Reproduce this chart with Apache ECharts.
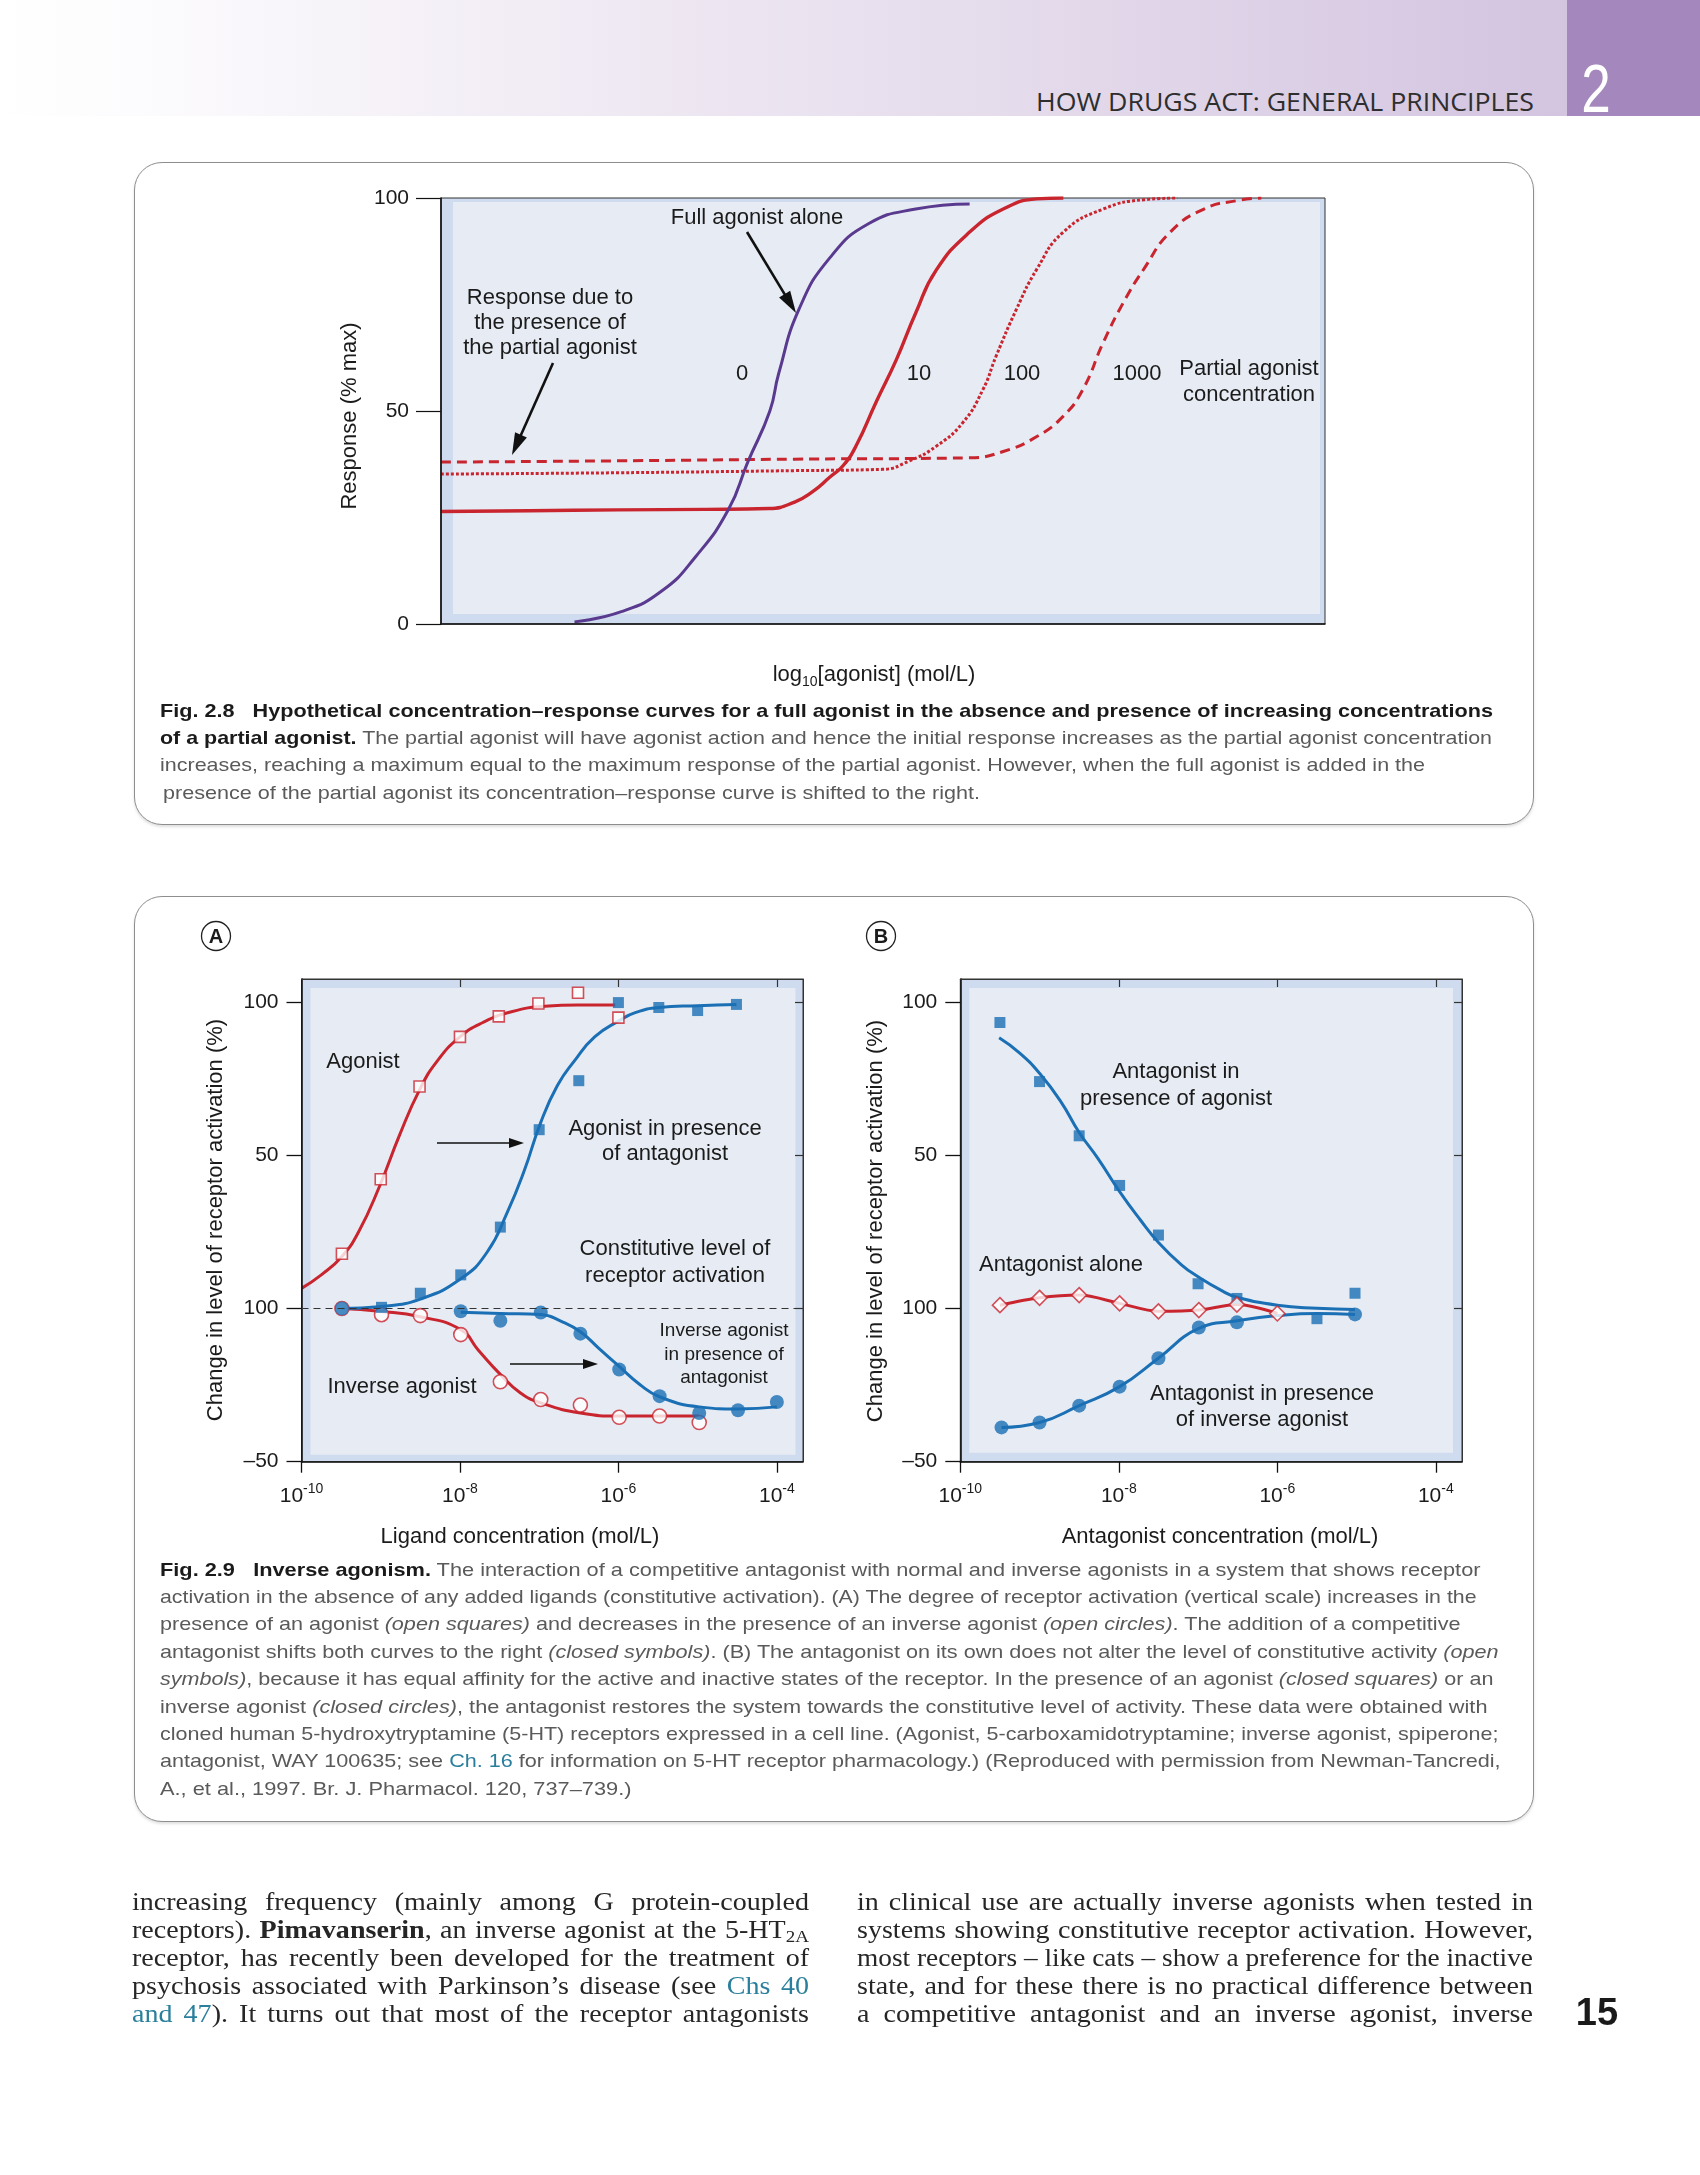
<!DOCTYPE html>
<html>
<head>
<meta charset="utf-8">
<script src="https://cdn.jsdelivr.net/npm/echarts@6.0.0/dist/echarts.min.js"></script>
<style>
html,body{margin:0;padding:0;background:#fff;}
#page{position:relative;width:1700px;height:2175px;overflow:hidden;background:#fff;}
.band{position:absolute;left:0;top:0;width:1567px;height:116px;
  background:linear-gradient(to right,#ffffff 0%,#fcfbfd 9%,#efe9f3 40%,#e2d8ea 70%,#d3c4e0 100%);}
.chap{position:absolute;left:1567px;top:0;width:133px;height:116px;background:#a487bc;}
.hdr{position:absolute;left:1036px;top:86px;line-height:30px;font-family:"Open Sans","DejaVu Sans",sans-serif;font-weight:400;font-size:25px;color:#2e2e2e;white-space:nowrap;transform-origin:left center;}
.chapnum{position:absolute;left:1596px;top:88px;transform:translate(-50%,-50%) scaleX(0.78);font-family:"Liberation Sans",Arial,sans-serif;font-weight:400;font-size:68px;line-height:68px;color:#fff;}
.box{position:absolute;box-sizing:border-box;border:1.5px solid #8e8e8e;border-radius:28px;background:#fff;box-shadow:0 2px 3px rgba(0,0,0,0.13);}
#chart{position:absolute;left:0;top:0;width:1700px;height:2175px;z-index:2;}
.cap{position:absolute;z-index:3;white-space:nowrap;font-family:"Liberation Sans",Arial,Helvetica,sans-serif;font-size:19px;line-height:27px;color:#5a5a5a;transform-origin:left center;}
.cap b{color:#1a1a1a;font-weight:bold;}
.cap a,.body a{color:#2a7f9c;text-decoration:none;}
.body{position:absolute;z-index:3;white-space:nowrap;font-family:"Liberation Serif","DejaVu Serif",serif;font-size:25.5px;line-height:28px;color:#262626;transform-origin:left center;}
.body b{font-weight:bold;}
.body sub{font-size:0.68em;vertical-align:-0.25em;line-height:0;}
.pnum{position:absolute;z-index:3;left:1597px;top:2012px;transform:translate(-50%,-50%);font-family:"Liberation Sans",Arial,sans-serif;font-weight:bold;font-size:38px;line-height:40px;color:#1a1a1a;}
</style>
</head>
<body>
<div id="page">
  <div class="band"></div>
  <div class="chap"></div>
  <div class="hdr" data-w="498">HOW DRUGS ACT: GENERAL PRINCIPLES</div>
  <div class="chapnum">2</div>

  <div class="box" style="left:134px;top:162px;width:1400px;height:663px;"></div>
  <div class="box" style="left:134px;top:896px;width:1400px;height:926px;"></div>

  <div id="chart"></div>

  <!-- Fig 2.8 caption -->
  <div class="cap" style="left:160px;top:696.5px" data-w="1333"><b>Fig. 2.8</b>&nbsp;&nbsp;&nbsp;<b>Hypothetical concentration–response curves for a full agonist in the absence and presence of increasing concentrations</b></div>
  <div class="cap" style="left:160px;top:723.5px" data-w="1332"><b>of a partial agonist.</b> The partial agonist will have agonist action and hence the initial response increases as the partial agonist concentration</div>
  <div class="cap" style="left:160px;top:751px" data-w="1265">increases, reaching a maximum equal to the maximum response of the partial agonist. However, when the full agonist is added in the</div>
  <div class="cap" style="left:163px;top:778.5px" data-w="817">presence of the partial agonist its concentration–response curve is shifted to the right.</div>

  <!-- Fig 2.9 caption -->
  <div class="cap" style="left:159.5px;top:1555.5px" data-w="1320.5"><b>Fig. 2.9</b>&nbsp;&nbsp;&nbsp;<b>Inverse agonism.</b> The interaction of a competitive antagonist with normal and inverse agonists in a system that shows receptor</div>
  <div class="cap" style="left:159.5px;top:1582.9px" data-w="1316.5">activation in the absence of any added ligands (constitutive activation). (A) The degree of receptor activation (vertical scale) increases in the</div>
  <div class="cap" style="left:159.5px;top:1610.3px" data-w="1300.5">presence of an agonist <i>(open squares)</i> and decreases in the presence of an inverse agonist <i>(open circles)</i>. The addition of a competitive</div>
  <div class="cap" style="left:159.5px;top:1637.7px" data-w="1338.5">antagonist shifts both curves to the right <i>(closed symbols)</i>. (B) The antagonist on its own does not alter the level of constitutive activity <i>(open</i></div>
  <div class="cap" style="left:159.5px;top:1665.1px" data-w="1333.5"><i>symbols)</i>, because it has equal affinity for the active and inactive states of the receptor. In the presence of an agonist <i>(closed squares)</i> or an</div>
  <div class="cap" style="left:159.5px;top:1692.5px" data-w="1327.5">inverse agonist <i>(closed circles)</i>, the antagonist restores the system towards the constitutive level of activity. These data were obtained with</div>
  <div class="cap" style="left:159.5px;top:1719.9px" data-w="1338.5">cloned human 5-hydroxytryptamine (5-HT) receptors expressed in a cell line. (Agonist, 5-carboxamidotryptamine; inverse agonist, spiperone;</div>
  <div class="cap" style="left:159.5px;top:1747.3px" data-w="1340.5">antagonist, WAY 100635; see <a>Ch. 16</a> for information on 5-HT receptor pharmacology.) (Reproduced with permission from Newman-Tancredi,</div>
  <div class="cap" style="left:159.5px;top:1774.7px" data-w="471.5">A., et al., 1997. Br. J. Pharmacol. 120, 737–739.)</div>

  <!-- Body text -->
  <div class="body" style="left:132px;top:1888px" data-w="677" data-mode="justify">increasing frequency (mainly among G protein-coupled</div>
  <div class="body" style="left:132px;top:1916px" data-w="677" data-mode="justify">receptors). <b>Pimavanserin</b>, an inverse agonist at the 5-HT<sub>2A</sub></div>
  <div class="body" style="left:132px;top:1944px" data-w="677" data-mode="justify">receptor, has recently been developed for the treatment of</div>
  <div class="body" style="left:132px;top:1972px" data-w="677" data-mode="justify">psychosis associated with Parkinson’s disease (see <a>Chs 40</a></div>
  <div class="body" style="left:132px;top:2000px" data-w="677" data-mode="justify"><a>and 47</a>). It turns out that most of the receptor antagonists</div>

  <div class="body" style="left:857px;top:1888px" data-w="676" data-mode="justify">in clinical use are actually inverse agonists when tested in</div>
  <div class="body" style="left:857px;top:1916px" data-w="676" data-mode="justify">systems showing constitutive receptor activation. However,</div>
  <div class="body" style="left:857px;top:1944px" data-w="676" data-mode="justify">most receptors – like cats – show a preference for the inactive</div>
  <div class="body" style="left:857px;top:1972px" data-w="676" data-mode="justify">state, and for these there is no practical difference between</div>
  <div class="body" style="left:857px;top:2000px" data-w="676" data-mode="justify">a competitive antagonist and an inverse agonist, inverse</div>

  <div class="pnum">15</div>
</div>

<script>
// ---------------- DATA ----------------
// Fig 2.8: x = position along log10[agonist] axis (arbitrary units, 0-10), y = response (% max)
const fullAgonistAlone = [[1.51,0.5],[2.04,2.9],[2.50,7.8],[2.88,15.8],[3.25,26.8],[3.47,38],[3.72,50],[3.82,58.8],[4.05,73.9],[4.40,86],[4.84,94],[5.37,97.4],[5.98,98.6]];
const partial10 = [[0,26.4],[1,26.6],[2,26.8],[3,26.9],[3.71,27.1],[4.0,28.6],[4.2,31],[4.4,34.5],[4.55,37.2],[4.7,42],[4.92,52],[5.15,62],[5.37,73],[5.6,83],[5.98,92],[6.36,97.4],[6.74,99.8],[7.04,100]];
const partial100 = [[0,35.2],[2,35.5],[4,36.0],[4.99,36.3],[5.29,38.2],[5.6,41.7],[5.9,47.2],[6.13,55],[6.28,62.9],[6.51,73.9],[6.74,83.3],[7.04,92],[7.49,97.4],[7.95,99.6],[8.33,100]];
const partial1000 = [[0,38],[2,38.3],[4,38.7],[5.98,39],[6.36,40.5],[6.74,44],[7.04,48.8],[7.26,55],[7.49,66],[7.72,75.5],[7.95,83.3],[8.25,92],[8.63,97.4],[9.01,99.4],[9.28,100]];
const fig28YTicks = [0, 50, 100];

// Fig 2.9A: x = log10 ligand concentration (mol/L), y = change in level of receptor activation
const agonistSquares = [[-9.49,17.9],[-9.0,42.2],[-8.51,72.5],[-8.0,88.7],[-7.51,95.4],[-7.01,99.6],[-6.51,103.1],[-6.0,95.0]];
const agonistCurve = [[-10,6.6],[-9.75,11],[-9.49,17],[-9.28,25],[-9.02,39.6],[-8.76,56.8],[-8.51,71.4],[-8.29,80.7],[-8.0,88.7],[-7.71,93.4],[-7.35,96.9],[-6.93,98.7],[-6.51,99.1],[-6.04,99.1]];
const agonistAntSquares = [[-8.99,0.4],[-8.50,5.0],[-7.99,11.0],[-7.49,26.6],[-7.0,58.4],[-6.5,74.4],[-6.0,99.9],[-5.49,98.3],[-5.0,97.3],[-4.51,99.3]];
const agonistAntCurve = [[-9.49,0],[-8.99,0.7],[-8.5,3.1],[-7.99,9.7],[-7.66,18.3],[-7.40,31.6],[-7.19,44.9],[-6.98,60.8],[-6.77,72.8],[-6.56,80.7],[-6.30,88.7],[-5.99,94],[-5.78,96.7],[-5.49,98.3],[-5.0,98.9],[-4.51,99.3]];
const inverseCircles = [[-9.49,0],[-8.99,-2.0],[-8.50,-2.3],[-7.99,-8.5],[-7.49,-23.9],[-6.98,-29.7],[-6.48,-31.5],[-5.99,-35.5],[-5.48,-35.1],[-4.98,-37.2]];
const inverseCurve = [[-9.49,0],[-9.02,-0.9],[-8.5,-2.7],[-7.99,-6.9],[-7.77,-13.5],[-7.49,-21.5],[-7.24,-27.5],[-6.98,-30.8],[-6.48,-34.1],[-5.99,-35.1],[-4.98,-35.1]];
const inverseAntCircles = [[-9.49,0],[-7.99,-0.9],[-7.49,-4.0],[-6.98,-1.3],[-6.48,-8.2],[-5.99,-19.9],[-5.48,-28.6],[-4.98,-34.1],[-4.49,-33.2],[-4.0,-30.5]];
const inverseAntCurve = [[-7.99,-1.2],[-7.49,-1.6],[-6.98,-1.9],[-6.72,-4.2],[-6.48,-7.6],[-6.25,-12.9],[-5.99,-18.9],[-5.73,-24.8],[-5.48,-28.8],[-4.98,-32.1],[-4.49,-32.8],[-4.0,-32.1]];

// Fig 2.9B: x = log10 antagonist concentration (mol/L)
const antAgonistSquares = [[-9.50,93.4],[-9.0,74.1],[-8.50,56.4],[-7.99,40.2],[-7.50,24.0],[-7.0,8.1],[-6.51,3.3],[-5.50,-3.3],[-5.02,5.0]];
const antAgonistCurve = [[-9.51,88.4],[-9.25,83.4],[-9.0,76.8],[-8.73,67.5],[-8.5,57.5],[-8.26,48.9],[-7.99,38.2],[-7.73,29.0],[-7.5,21.6],[-7.21,14.3],[-7.0,10.4],[-6.69,5.7],[-6.51,3.7],[-6.0,1.1],[-5.5,0.1],[-5.02,-0.3]];
const antAloneDiamonds = [[-9.5,1.1],[-9.0,3.5],[-8.5,4.4],[-7.99,1.7],[-7.5,-0.9],[-6.99,-0.5],[-6.51,1.3],[-6.0,-1.6]];
const antInverseCircles = [[-9.48,-38.8],[-9.0,-37.2],[-8.50,-31.7],[-7.99,-25.5],[-7.5,-16.2],[-6.99,-6.2],[-6.51,-4.5],[-5.02,-1.9]];
const antInverseCurve = [[-9.48,-38.8],[-9.0,-37.2],[-8.5,-31.7],[-7.99,-25.5],[-7.5,-16.2],[-6.99,-6.5],[-6.51,-4.0],[-6.0,-2.3],[-5.5,-1.6],[-5.02,-1.9]];

const panelXTicks = [-10, -8, -6, -4];
const panelYTicks = [-50, 0, 50, 100];
const panelYTickLabels = ['–50', '100', '50', '100'];

// ---------------- STYLE ----------------
const FONT = '"Liberation Sans", Arial, Helvetica, sans-serif';
const RED = '#c9252f', PURPLE = '#5a3a8e', BLUE = '#1b6fb4';
const BAND = '#cfdbee', INNER = '#e7ecf4', INK = '#1b1b1b';

function T(text, x, y, size, lh, extra) {
  return Object.assign({
    type: 'text', x: x, y: y, z: 10,
    style: { text: text, font: size + 'px ' + FONT, fill: INK, align: 'center', verticalAlign: 'middle',
      textAlign: 'center', textVerticalAlign: 'middle', lineHeight: lh || Math.round(size * 1.2) }
  }, extra || {});
}
function arrow(x1, y1, x2, y2, lw, hl, hw) {
  const dx = x2 - x1, dy = y2 - y1, L = Math.hypot(dx, dy), ux = dx / L, uy = dy / L;
  const bx = x2 - ux * hl, by = y2 - uy * hl, px = -uy, py = ux;
  return [
    { type: 'line', z: 10, shape: { x1: x1, y1: y1, x2: bx + ux * 2, y2: by + uy * 2 }, style: { stroke: '#111', lineWidth: lw } },
    { type: 'polygon', z: 10, shape: { points: [[x2, y2], [bx + px * hw / 2, by + py * hw / 2], [bx - px * hw / 2, by - py * hw / 2]] }, style: { fill: '#111' } }
  ];
}
function circLetter(ch, x, y) {
  return [
    { type: 'circle', z: 10, shape: { cx: x, cy: y, r: 14.5 }, style: { fill: '#fff', stroke: '#222', lineWidth: 1.3 } },
    T(ch, x, y + 1, 20, 22, { style: { text: ch, font: 'bold 20px ' + FONT, fill: INK, align: 'center', verticalAlign: 'middle', textAlign: 'center', textVerticalAlign: 'middle' } })
  ];
}

const G = [
  { left: 441, top: 198, width: 884, height: 426, inset: [12, 4, 5, 10] },
  { left: 301.5, top: 979, width: 501.5, height: 482.7, inset: [9, 9, 7.5, 7] },
  { left: 960.3, top: 979, width: 501.7, height: 482.7, inset: [9, 9, 9, 9] }
];

const xLabelRich = {
  b: { fontSize: 21, fontFamily: FONT, color: INK, lineHeight: 30 },
  s: { fontSize: 14, fontFamily: FONT, color: INK, lineHeight: 18, verticalAlign: 'top' }
};
function panelX(gi) {
  return [
    { gridIndex: gi, type: 'value', min: -10, max: -3.67, position: 'bottom', z: 3,
      axisLine: { show: true, onZero: false, lineStyle: { color: '#111', width: 1.6 } },
      axisTick: { show: true, inside: false, length: 11, customValues: panelXTicks, lineStyle: { color: '#111', width: 1.3 } },
      axisLabel: { show: true, margin: 20, customValues: panelXTicks, rich: xLabelRich,
        formatter: function (v) { return '{b|10}{s|' + String(v).replace('−', '-') + '}'; } },
      splitLine: { show: false } },
    { gridIndex: gi, type: 'value', min: -10, max: -3.67, position: 'top', z: 3,
      axisLine: { show: true, onZero: false, lineStyle: { color: '#333', width: 1 } },
      axisTick: { show: true, inside: true, length: 8, customValues: [-8, -6, -4], lineStyle: { color: '#333', width: 1.2 } },
      axisLabel: { show: false }, splitLine: { show: false } }
  ];
}
function panelY(gi) {
  return [
    { gridIndex: gi, type: 'value', min: -50, max: 107.6, position: 'left', z: 3,
      axisLine: { show: true, onZero: false, lineStyle: { color: '#111', width: 1.6 } },
      axisTick: { show: true, inside: false, length: 15, customValues: panelYTicks, lineStyle: { color: '#111', width: 1.3 } },
      axisLabel: { show: true, margin: 23, customValues: panelYTicks, fontSize: 21, fontFamily: FONT, color: INK,
        formatter: function (v) { const i = panelYTicks.indexOf(Math.round(v)); return i >= 0 ? panelYTickLabels[i] : ''; } },
      splitLine: { show: false } },
    { gridIndex: gi, type: 'value', min: -50, max: 107.6, position: 'right', z: 3,
      axisLine: { show: true, onZero: false, lineStyle: { color: '#333', width: 1 } },
      axisTick: { show: true, inside: true, length: 8, customValues: [0, 50, 100], lineStyle: { color: '#333', width: 1.2 } },
      axisLabel: { show: false }, splitLine: { show: false } }
  ];
}

function curve(data, xi, yi, color, width, type, extra) {
  return Object.assign({ type: 'line', xAxisIndex: xi, yAxisIndex: yi, data: data, showSymbol: false, symbol: 'none',
    smooth: 0.5, z: 2, silent: true,
    lineStyle: { color: color, width: width, type: type || 'solid', cap: 'butt', join: 'round' } }, extra || {});
}
function marks(data, xi, yi, symbol, size, open, color, extra) {
  return Object.assign({ type: 'scatter', xAxisIndex: xi, yAxisIndex: yi, data: data, symbol: symbol, symbolSize: size, z: 4, silent: true,
    itemStyle: open ? { color: '#fff', borderColor: color, borderWidth: 1.6 } : { color: color, borderWidth: 0 } }, extra || {});
}

// graphics
const graphics = [];
G.forEach(function (g) {
  graphics.push({ type: 'rect', z: 1, silent: true,
    shape: { x: g.left + g.inset[0], y: g.top + g.inset[1], width: g.width - g.inset[0] - g.inset[2], height: g.height - g.inset[1] - g.inset[3] },
    style: { fill: INNER } });
});
// Fig 2.8 texts
graphics.push(T('Full agonist alone', 757, 218, 22));
graphics.push(T('Response due to\nthe presence of\nthe partial agonist', 550, 323, 22, 25));
graphics.push(T('0', 742, 374, 22), T('10', 919, 374, 22), T('100', 1022, 374, 22), T('1000', 1137, 374, 22));
graphics.push(T('Partial agonist\nconcentration', 1249, 382, 22, 26));
graphics.push(T('Response (% max)', 350, 416, 22, 26, { rotation: Math.PI / 2 }));
graphics.push({ type: 'text', x: 874, y: 675, z: 10, style: {
  text: '{a|log}{s|10}{a|[agonist] (mol/L)}', align: 'center', verticalAlign: 'middle', textAlign: 'center', textVerticalAlign: 'middle',
  rich: { a: { fontSize: 22, fontFamily: FONT, fill: INK, color: INK, lineHeight: 28 },
          s: { fontSize: 14, fontFamily: FONT, fill: INK, color: INK, lineHeight: 14, verticalAlign: 'bottom' } } } });
graphics.push.apply(graphics, arrow(747, 232, 796, 313, 2.6, 22, 13));
graphics.push.apply(graphics, arrow(553, 363, 512, 455, 2.6, 22, 13));
// Panel A texts
graphics.push.apply(graphics, circLetter('A', 216, 936));
graphics.push(T('Agonist', 363, 1062, 22));
graphics.push(T('Agonist in presence\nof antagonist', 665, 1141.5, 22, 25));
graphics.push(T('Constitutive level of\nreceptor activation', 675, 1262.5, 22, 26.5));
graphics.push(T('Inverse agonist\nin presence of\nantagonist', 724, 1354.5, 19, 23.5));
graphics.push(T('Inverse agonist', 402, 1387, 22));
graphics.push(T('Change in level of receptor activation (%)', 216, 1220, 22, 26, { rotation: Math.PI / 2 }));
graphics.push(T('Ligand concentration (mol/L)', 520, 1537, 22));
graphics.push.apply(graphics, arrow(437, 1143, 524, 1143, 1.5, 15, 10));
graphics.push.apply(graphics, arrow(510, 1364, 598, 1364, 1.5, 15, 10));
// Panel B texts
graphics.push.apply(graphics, circLetter('B', 881, 936));
graphics.push(T('Antagonist in\npresence of agonist', 1176, 1085.5, 22, 27));
graphics.push(T('Antagonist alone', 1061, 1265, 22));
graphics.push(T('Antagonist in presence\nof inverse agonist', 1262, 1407, 22, 26));
graphics.push(T('Change in level of receptor activation (%)', 876, 1221, 22, 26, { rotation: Math.PI / 2 }));
graphics.push(T('Antagonist concentration (mol/L)', 1220, 1537, 22));

const option = {
  animation: false,
  backgroundColor: 'transparent',
  grid: G.map(function (g) {
    return { left: g.left, top: g.top, width: g.width, height: g.height, show: true, backgroundColor: BAND, borderColor: '#333', borderWidth: 1, containLabel: false };
  }),
  xAxis: [
    { gridIndex: 0, type: 'value', min: 0, max: 10, z: 3,
      axisLine: { show: true, onZero: false, lineStyle: { color: '#111', width: 1.6 } },
      axisTick: { show: false }, axisLabel: { show: false }, splitLine: { show: false } }
  ].concat(panelX(1), panelX(2)),
  yAxis: [
    { gridIndex: 0, type: 'value', min: 0, max: 100, interval: 50, z: 3,
      axisLine: { show: true, onZero: false, lineStyle: { color: '#111', width: 1.6 } },
      axisTick: { show: true, inside: false, length: 25, customValues: fig28YTicks, lineStyle: { color: '#111', width: 1.2 } },
      axisLabel: { show: true, margin: 32, customValues: fig28YTicks, fontSize: 21, fontFamily: FONT, color: INK },
      splitLine: { show: false } }
  ].concat(panelY(1), panelY(2)),
  graphic: { elements: graphics },
  series: [
    // Fig 2.8
    curve(partial1000, 0, 0, RED, 3, [10, 6]),
    curve(partial100, 0, 0, RED, 3, [3, 2]),
    curve(partial10, 0, 0, RED, 3.4, 'solid'),
    curve(fullAgonistAlone, 0, 0, PURPLE, 3, 'solid'),
    // Panel A (x axes 1,2 ; y axes 1,2)
    curve(agonistCurve, 1, 1, RED, 3, 'solid', {
      markLine: { silent: true, symbol: 'none', label: { show: false }, animation: false,
        lineStyle: { color: '#333', type: [7, 5], width: 1 }, data: [{ yAxis: 0 }] } }),
    curve(inverseCurve, 1, 1, RED, 3, 'solid'),
    curve(agonistAntCurve, 1, 1, BLUE, 3, 'solid'),
    curve(inverseAntCurve, 1, 1, BLUE, 3, 'solid'),
    marks(agonistSquares, 1, 1, 'rect', 11, true, RED),
    marks(inverseCircles, 1, 1, 'circle', 14, true, RED),
    marks(agonistAntSquares, 1, 1, 'rect', 11, false, BLUE),
    marks(inverseAntCircles, 1, 1, 'circle', 14, false, BLUE),
    // Panel B (x axes 3,4 ; y axes 3,4)
    curve(antAgonistCurve, 3, 3, BLUE, 3, 'solid'),
    curve(antInverseCurve, 3, 3, BLUE, 3, 'solid'),
    curve(antAloneDiamonds, 3, 3, RED, 3, 'solid', { smooth: 0.3 }),
    marks(antAgonistSquares, 3, 3, 'rect', 11, false, BLUE),
    marks(antInverseCircles, 3, 3, 'circle', 14, false, BLUE),
    marks(antAloneDiamonds, 3, 3, 'diamond', 15, true, RED)
  ]
};

const chart = echarts.init(document.getElementById('chart'), null, { renderer: 'canvas', width: 1700, height: 2175 });
chart.setOption(option);

// fit text lines to the reference line lengths
document.querySelectorAll('[data-w]').forEach(function (el) {
  const target = +el.dataset.w;
  const w = el.getBoundingClientRect().width;
  if (!w) return;
  if (el.dataset.mode === 'justify') {
    const s = Math.min(target / w, 1.1);
    const n = (el.textContent.match(/ /g) || []).length;
    const rest = target / s - w;
    if (n && rest > 0) el.style.wordSpacing = (rest / n) + 'px';
    el.style.transform = 'scaleX(' + s + ')';
  } else {
    el.style.transform = 'scaleX(' + (target / w) + ')';
  }
});
</script>
</body>
</html>
